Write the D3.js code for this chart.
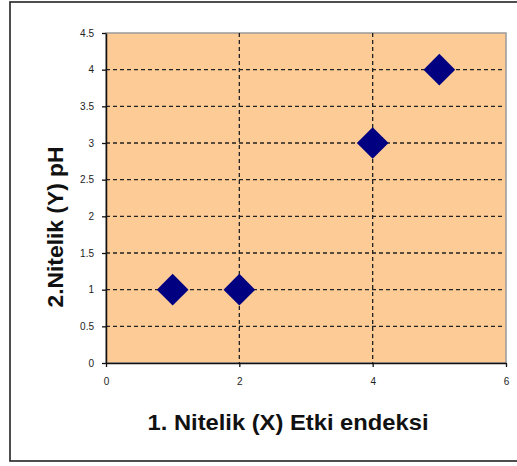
<!DOCTYPE html>
<html>
<head>
<meta charset="utf-8">
<script src="https://cdn.jsdelivr.net/npm/d3@7"></script>
<style>
  html, body { margin: 0; padding: 0; background: #ffffff; }
  svg { display: block; }
</style>
</head>
<body>
<script>
// Scatter data: attribute 1 (impact index) vs attribute 2 (pH)
const xValues = [1, 2, 4, 5];
const yValues = [1, 1, 3, 4];
const xTicks = [0, 2, 4, 6];
const yTicks = [0, 0.5, 1, 1.5, 2, 2.5, 3, 3.5, 4, 4.5];
const xTitle = "1. Nitelik (X) Etki endeksi";
const yTitle = "2.Nitelik (Y) pH";

const W = 517, H = 466;
const plot = { left: 106, top: 33, right: 506, bottom: 363 };

const svg = d3.select("body").append("svg")
  .attr("width", W).attr("height", H);

// outer chart frame (runs off the right edge)
svg.append("rect")
  .attr("x", 10).attr("y", 2)
  .attr("width", W + 10).attr("height", 459)
  .attr("fill", "#ffffff")
  .attr("stroke", "#222").attr("stroke-width", 1.6);

const x = d3.scaleLinear().domain([0, 6]).range([plot.left, plot.right]);
const y = d3.scaleLinear().domain([0, 4.5]).range([plot.bottom, plot.top]);

// plot area background with a soft gray edge
svg.append("rect")
  .attr("x", plot.left).attr("y", plot.top)
  .attr("width", plot.right - plot.left).attr("height", plot.bottom - plot.top)
  .attr("fill", "#fccb96")
  .attr("stroke", "#9a9a9a").attr("stroke-width", 1.5);

// dashed grid
const grid = svg.append("g")
  .attr("stroke", "#222").attr("stroke-width", 1.3)
  .attr("stroke-dasharray", "4,3");
grid.selectAll("line.h").data(yTicks.filter(d => d > 0 && d < 4.5)).join("line")
  .attr("class", "h")
  .attr("x1", plot.left).attr("x2", plot.right - 2)
  .attr("y1", d => y(d)).attr("y2", d => y(d));
grid.selectAll("line.v").data(xTicks.filter(d => d > 0 && d < 6)).join("line")
  .attr("class", "v")
  .attr("y1", plot.top).attr("y2", plot.bottom)
  .attr("x1", d => x(d)).attr("x2", d => x(d));

// axes
const tickFont = "'Liberation Sans', Arial, sans-serif";
const yAxis = svg.append("g")
  .attr("transform", `translate(${plot.left},0)`)
  .call(d3.axisLeft(y).tickValues(yTicks).tickSize(4).tickSizeOuter(0)
    .tickFormat(d3.format("")));
const xAxis = svg.append("g")
  .attr("transform", `translate(0,${plot.bottom})`)
  .call(d3.axisBottom(x).tickValues(xTicks).tickSize(4).tickSizeOuter(0)
    .tickFormat(d3.format("")));

[yAxis, xAxis].forEach(g => {
  g.select(".domain").attr("stroke", "#111").attr("stroke-width", 1.5);
  g.selectAll(".tick line").attr("stroke", "#111").attr("stroke-width", 1.3);
  g.selectAll(".tick text")
    .attr("fill", "#222")
    .style("font-family", tickFont)
    .style("font-size", "10px");
});
yAxis.selectAll(".tick text").attr("x", -12);
xAxis.selectAll(".tick text").attr("y", 15);

// diamond markers
const diamond = d3.symbol().type(d3.symbolDiamond2).size(640);
svg.append("g").selectAll("path")
  .data(xValues.map((v, i) => [v, yValues[i]]))
  .join("path")
  .attr("transform", d => `translate(${x(d[0])},${y(d[1])})`)
  .attr("d", diamond)
  .attr("fill", "#000080");

// axis titles
const titleFont = "'Liberation Sans', Arial, sans-serif";
svg.append("text")
  .attr("x", 288).attr("y", 430)
  .attr("text-anchor", "middle")
  .attr("textLength", 281).attr("lengthAdjust", "spacingAndGlyphs")
  .style("font-family", titleFont)
  .style("font-weight", "bold")
  .style("font-size", "22px")
  .attr("fill", "#111")
  .text(xTitle);
svg.append("text")
  .attr("transform", "translate(63,227) rotate(-90)")
  .attr("text-anchor", "middle")
  .attr("textLength", 161).attr("lengthAdjust", "spacingAndGlyphs")
  .style("font-family", titleFont)
  .style("font-weight", "bold")
  .style("font-size", "22px")
  .attr("fill", "#111")
  .text(yTitle);
</script>
</body>
</html>
